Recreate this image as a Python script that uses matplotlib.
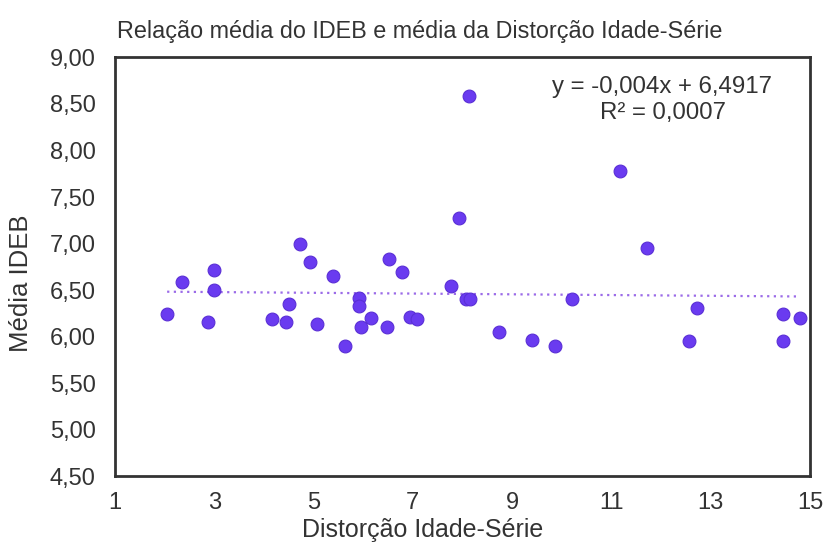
import numpy as np
import matplotlib
matplotlib.use("Agg")
import matplotlib.pyplot as plt
from matplotlib.ticker import FuncFormatter

plt.rcParams['font.family'] = ['Liberation Sans', 'DejaVu Sans']

# distorção idade-série x média IDEB, uma escola por ponto
distorcao = [2.05, 2.35, 2.87, 2.99, 2.99, 4.16, 4.44, 4.51, 4.73, 4.93,
             5.07, 5.39, 5.63, 5.92, 5.92, 5.96, 6.16, 6.48, 6.52, 6.78,
             6.94, 7.08, 7.77, 7.93, 8.07, 8.15, 8.13, 8.74, 9.40, 9.86,
             10.21, 11.17, 11.72, 12.56, 12.72, 14.46, 14.46, 14.80]
ideb = [6.24, 6.59, 6.16, 6.72, 6.50, 6.19, 6.16, 6.35, 7.00, 6.80,
        6.14, 6.65, 5.90, 6.42, 6.33, 6.10, 6.20, 6.10, 6.84, 6.70,
        6.21, 6.19, 6.54, 7.27, 6.40, 6.40, 8.58, 6.05, 5.97, 5.90,
        6.41, 7.78, 6.95, 5.95, 6.31, 6.24, 5.95, 6.20]

# linha de tendência do Excel
coef_a = -0.004
coef_b = 6.4917
r2 = 0.0007

x_ticks = [1, 3, 5, 7, 9, 11, 13, 15]
y_ticks = np.arange(4.5, 9.01, 0.5)

fig = plt.figure(figsize=(8.25, 5.44), dpi=100)
ax = fig.add_axes([0.1394, 0.1241, 0.8424, 0.7706])

ax.scatter(distorcao, ideb, s=85, color='#6a3bf0', edgecolors='#5a2fd6',
           linewidths=0.8, zorder=3)

xs = np.array([min(distorcao), max(distorcao)])
ax.plot(xs, coef_a * xs + coef_b, linestyle=(0, (1, 2)), color='#9b6be8',
        linewidth=1.6, zorder=2)

ax.set_xlim(1, 15)
ax.set_ylim(4.5, 9.0)
ax.set_xticks(x_ticks)
ax.set_yticks(y_ticks)
ax.yaxis.set_major_formatter(FuncFormatter(lambda v, p: f"{v:.2f}".replace('.', ',')))
ax.tick_params(length=0, labelsize=17, colors='#333333')
ax.tick_params(axis='y', pad=14)
ax.tick_params(axis='x', pad=11)

for sp in ax.spines.values():
    sp.set_color('#333333')
    sp.set_linewidth(2)

ax.set_title('Relação média do IDEB e média da Distorção Idade-Série',
             fontsize=16.8, color='#333333', pad=14, x=0.439)
ax.set_xlabel('Distorção Idade-Série', fontsize=18, color='#333333')
ax.set_ylabel('Média IDEB', fontsize=18.5, color='#333333')
ax.xaxis.set_label_coords(0.442, -0.1)
ax.yaxis.set_label_coords(-0.118, 0.462)

eq = f"y = {coef_a:.3f}x + {coef_b:.4f}".replace('.', ',')
ax.text(0.787, 0.929, eq, transform=ax.transAxes, ha='center', va='center',
        fontsize=17.3, color='#333333')
ax.text(0.789, 0.867, f"R² = {r2:.4f}".replace('.', ','), transform=ax.transAxes,
        ha='center', va='center', fontsize=17.3, color='#333333')

fig.savefig('out.png', dpi=100, facecolor='white')
